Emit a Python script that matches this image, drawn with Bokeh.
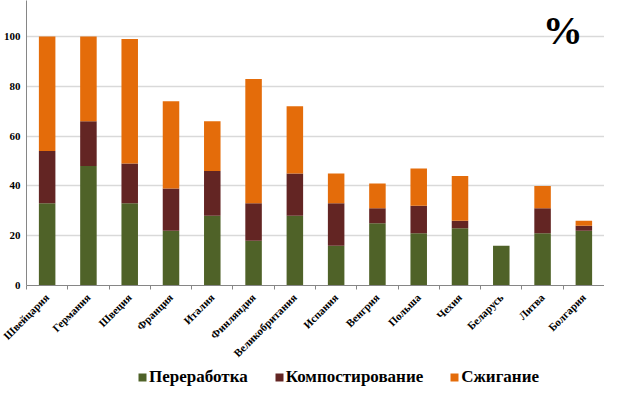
import math
from bokeh.plotting import figure
from bokeh.layouts import column
from bokeh.models import (ColumnDataSource, FixedTicker, Legend, LegendItem,
                          Range1d, Label)
from bokeh.embed import file_html
from bokeh.resources import INLINE

countries = ["Швейцария", "Германия", "Швеция", "Франция", "Италия",
             "Финляндия", "Великобритания", "Испания", "Венгрия", "Польша",
             "Чехия", "Беларусь", "Литва", "Болгария"]
recycling = [33, 48, 33, 22, 28, 18, 28, 16, 25, 21, 23, 16, 21, 22]
composting = [21, 18, 16, 17, 18, 15, 17, 17, 6, 11, 3, 0, 10, 2]
incineration = [46, 34, 50, 35, 20, 50, 27, 12, 10, 15, 18, 0, 9, 2]
series_names = ["Переработка", "Компостирование", "Сжигание"]
colors = ["#4F6228", "#632523", "#E46C0A"]
y_ticks = [0, 20, 40, 60, 80, 100]

xs = [i + 0.5 for i in range(len(countries))]
src = ColumnDataSource(dict(x=xs, rec=recycling, comp=composting, inc=incineration))

p = figure(width=604, height=366, x_range=Range1d(0, len(countries)),
           y_range=Range1d(0, 114.5), output_backend="svg",
           toolbar_location=None, min_border_left=24, min_border_right=0,
           min_border_top=0, min_border_bottom=80)
p.outline_line_color = None
p.background_fill_color = "white"
p.border_fill_color = "white"

renderers = p.vbar_stack(["rec", "comp", "inc"], x="x", width=0.4,
                         color=colors, line_color=None, source=src)

font = "Liberation Serif"
# x axis
p.xaxis.ticker = FixedTicker(ticks=xs, minor_ticks=list(range(len(countries) + 1)))
p.xaxis.major_label_overrides = {x: c for x, c in zip(xs, countries)}
p.xaxis.major_label_orientation = math.pi / 4
p.xaxis.major_tick_out = 0
p.xaxis.major_tick_in = 0
p.xaxis.minor_tick_out = 4
p.xaxis.minor_tick_in = 0
p.xaxis.minor_tick_line_color = "#868686"
p.xaxis.axis_line_color = "#868686"
p.xaxis.major_label_text_font = font
p.xaxis.major_label_text_font_style = "bold"
p.xaxis.major_label_text_font_size = "11px"
p.xaxis.major_label_text_color = "black"
p.xaxis.major_label_standoff = 6

# y axis
p.yaxis.ticker = FixedTicker(ticks=y_ticks)
p.yaxis.major_tick_out = 0
p.yaxis.major_tick_in = 0
p.yaxis.minor_tick_out = 0
p.yaxis.axis_line_color = "#868686"
p.yaxis.major_label_text_font = font
p.yaxis.major_label_text_font_style = "bold"
p.yaxis.major_label_text_font_size = "11px"
p.yaxis.major_label_text_color = "black"
p.yaxis.major_label_standoff = 6

p.xgrid.visible = False
p.ygrid.ticker = FixedTicker(ticks=y_ticks)
p.ygrid.grid_line_color = "#D9D9D9"
p.ygrid.grid_line_width = 1.5

p.add_layout(Label(x=12.99, y=102.3, text="%", text_font=font,
                   text_font_style="bold", text_font_size="40px",
                   text_align="center", text_baseline="middle",
                   text_color="black"))

# legend strip (legend proxies have zero height)
lg = figure(width=604, height=22, x_range=Range1d(0, 1), y_range=Range1d(0, 1),
            output_backend="svg", toolbar_location=None, min_border=0)
lg.axis.visible = False
lg.grid.visible = False
lg.outline_line_color = None
leg_renderers = [lg.vbar(x=[0.5], top=[0], bottom=[0], width=0.0,
                         color=c, line_color=None)
                 for c in colors]

legend = Legend(items=[LegendItem(label=n, renderers=[r])
                       for n, r in zip(series_names, leg_renderers)],
                orientation="horizontal", location=(111, 1))
legend.label_text_font = font
legend.label_text_font_style = "bold"
legend.label_text_font_size = "17px"
legend.label_text_color = "black"
legend.label_height = 17
legend.glyph_width = 10
legend.glyph_height = 10
legend.label_standoff = 2
legend.spacing = 26
legend.border_line_color = None
legend.background_fill_alpha = 0
legend.margin = 0
legend.padding = 0
lg.add_layout(legend)

layout = column(p, lg, spacing=0)
open("out.html", "w").write(file_html(layout, INLINE))
